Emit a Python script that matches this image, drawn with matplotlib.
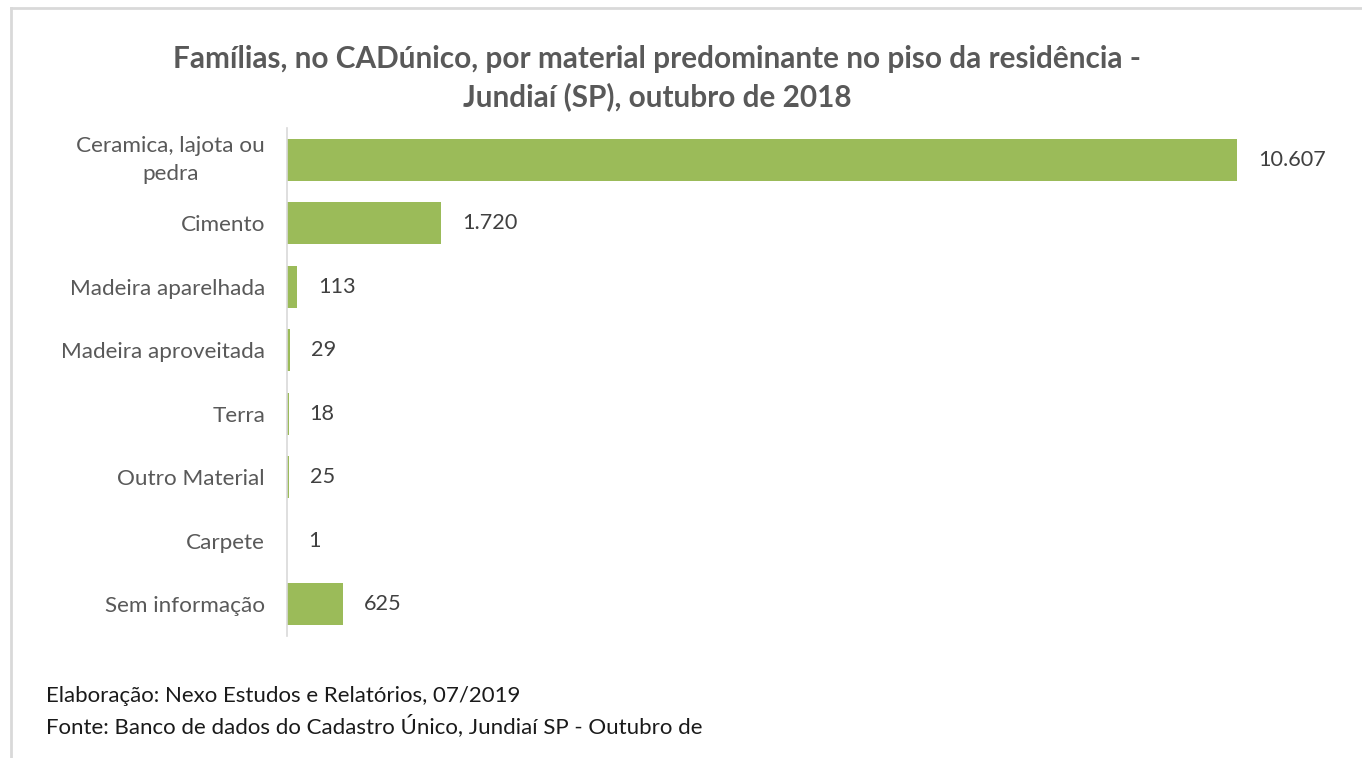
import matplotlib
matplotlib.use("Agg")
import matplotlib.pyplot as plt
from matplotlib.lines import Line2D

categories = ["Ceramica, lajota ou\npedra", "Cimento", "Madeira aparelhada",
              "Madeira aproveitada", "Terra", "Outro Material", "Carpete",
              "Sem informação"]
values = [10607, 1720, 113, 29, 18, 25, 1, 625]
value_labels = ["10.607", "1.720", "113", "29", "18", "25", "1", "625"]

title = "Famílias, no CADúnico, por material predominante no piso da residência -\nJundiaí (SP), outubro de 2018"
footer1 = "Elaboração: Nexo Estudos e Relatórios, 07/2019"
footer2 = "Fonte: Banco de dados do Cadastro Único, Jundiaí SP - Outubro de"

plt.rcParams['font.family'] = ['Lato', 'DejaVu Sans']

W, H = 1362, 758
fig = plt.figure(figsize=(W/100, H/100), dpi=100)
fig.patch.set_facecolor("white")

# axes: left at x=287, right 1340, top 128, bottom 636
left, right, top, bottom = 287, 1340, 128, 636
ax = fig.add_axes([left/W, 1 - bottom/H, (right-left)/W, (bottom-top)/H])
px_per_unit = 950 / 10607
xmax = (right - left) / px_per_unit

y = list(range(len(categories)))
ax.barh(y, values, height=0.66, color="#9BBB59")
ax.set_xlim(0, xmax)
ax.set_ylim(len(categories) - 0.5, -0.5)

for yi, v, lab in zip(y, values, value_labels):
    ax.text(v + 21 / px_per_unit, yi, lab, va="center", ha="left",
            fontsize=15.6, color="#404040")

ax.set_yticks(y)
ax.set_yticklabels(categories, fontsize=16.2, color="#595959",
                   multialignment="center", linespacing=1.5)
for t, c in zip(ax.get_yticklabels(), categories):
    if "\n" in c:
        t.set_va("center")
ax.tick_params(axis="y", length=0, pad=15.8)
ax.set_xticks([])
for s in ["top", "right", "bottom"]:
    ax.spines[s].set_visible(False)
ax.spines["left"].set_color("#D9D9D9")
ax.spines["left"].set_linewidth(1.2)

fig.text(657/W, 1 - 78.5/H, title, ha="center", va="center", fontsize=21.4,
         fontweight="bold", color="#595959", linespacing=1.38)

fig.text(46/W, 1 - 696/H, footer1, ha="left", va="center", fontsize=16, color="#1a1a1a")
fig.text(46/W, 1 - 726/H, footer2, ha="left", va="center", fontsize=16, color="#1a1a1a")

# frame lines (top and left)
fig.add_artist(Line2D([11/W, 1], [1 - 8/H, 1 - 8/H], transform=fig.transFigure,
                      color="#D9D9D9", linewidth=2))
fig.add_artist(Line2D([11/W, 11/W], [0, 1 - 8/H], transform=fig.transFigure,
                      color="#D9D9D9", linewidth=2))

fig.savefig("out.png", dpi=100, facecolor="white")
